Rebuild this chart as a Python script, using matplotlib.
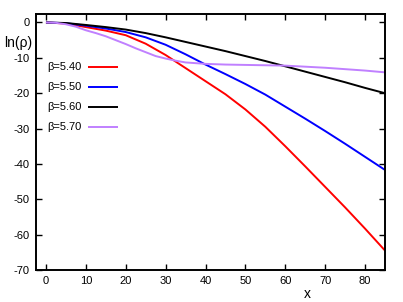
import matplotlib
matplotlib.use("Agg")
import matplotlib.pyplot as plt

plt.rcParams['font.family'] = ['Liberation Sans', 'DejaVu Sans']
plt.rcParams['axes.unicode_minus'] = False

x5 = [0, 5, 10, 15, 20, 25, 30, 35, 40, 45, 50, 55, 60, 65, 70, 75, 80, 85]
red_540 = [0, -0.3, -1.3, -2.3, -3.6, -6.0, -9.2, -12.9, -16.6, -20.3, -24.6, -29.5, -35.0, -40.7, -46.5, -52.3, -58.3, -64.5]
blue_550 = [0, -0.2, -0.9, -1.7, -2.7, -4.2, -6.3, -9.0, -11.9, -14.6, -17.4, -20.4, -23.8, -27.2, -30.7, -34.3, -38.0, -41.7]
black_560 = [0, -0.15, -0.7, -1.3, -2.0, -3.0, -4.2, -5.5, -6.8, -8.1, -9.5, -10.9, -12.4, -13.9, -15.4, -16.9, -18.5, -20.0]
x_p = [0, 2.5, 5, 7.5, 10, 12.5, 15, 17.5, 20, 22.5, 25, 27.5, 30, 32.5, 35, 40, 45, 50, 55, 60, 65, 70, 75, 80, 85]
purple_570 = [0, -0.1, -0.5, -1.2, -2.2, -3.0, -3.9, -5.0, -6.1, -7.3, -8.4, -9.5, -10.2, -10.8, -11.3, -11.7, -11.9, -12.0, -12.1, -12.2, -12.5, -12.8, -13.2, -13.6, -14.1]

labels = ['β=5.40', 'β=5.50', 'β=5.60', 'β=5.70']
colors = ['#ff0000', '#0000ff', '#000000', '#c080ff']
xticks = [0, 10, 20, 30, 40, 50, 60, 70, 80]
yticks = [0, -10, -20, -30, -40, -50, -60, -70]

fig = plt.figure(figsize=(4.03, 3.02), dpi=100)
ax = fig.add_axes([36/403, 32/302, 349/403, 256/302])

series = [(x5, red_540), (x5, blue_550), (x5, black_560), (x_p, purple_570)]
for (xs, ys), lab, c in zip(series, labels, colors):
    ax.plot(xs, ys, color=c, lw=1.4, label=lab, solid_capstyle='butt')

ax.set_xlim(-2.5, 85)
ax.set_ylim(-70, 2.4)
ax.set_xticks(xticks)
ax.set_yticks(yticks)
ax.tick_params(direction='in', length=4.5, width=1.0, top=True, right=True,
               labelsize=8, pad=4.5)
ax.tick_params(axis='x', labeltop=False)
ax.tick_params(axis='y', labelright=False)
for s in ax.spines.values():
    s.set_linewidth(1.4)

ax.text((307-36)/349, -(293.5-270)/256, 'x', fontsize=10, ha='center',
        va='center', transform=ax.transAxes)
ax.text((18-36)/349, (270-43)/256, 'ln(ρ)', fontsize=10, ha='center',
        va='center', transform=ax.transAxes)

leg = ax.legend(loc='upper left', bbox_to_anchor=((47-36)/349, (270-62.5)/256),
                frameon=False, markerfirst=False, fontsize=8, borderpad=0,
                borderaxespad=0, handlelength=2.7, handletextpad=0.6,
                labelspacing=0.9)

fig.savefig('out.png', dpi=100)
